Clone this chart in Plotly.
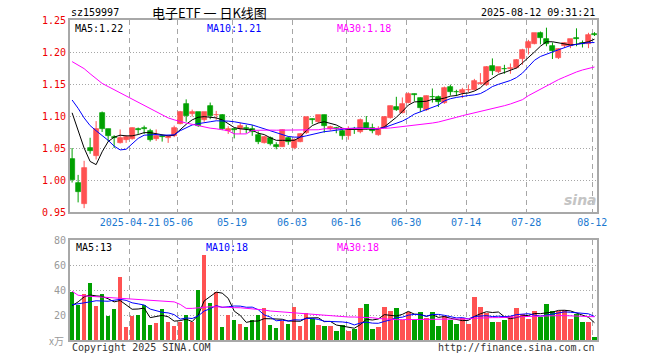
import plotly.graph_objects as go

# ---------------- data ----------------
dates = (
    ["2025-04-%02d" % d for d in [7, 8, 9, 10, 11, 14, 15, 16, 17, 18, 21, 22, 23, 24, 25, 28, 29, 30]]
    + ["2025-05-%02d" % d for d in [6, 7, 8, 9, 12, 13, 14, 15, 16, 19, 20, 21, 22, 23, 26, 27, 28, 29, 30]]
    + ["2025-06-%02d" % d for d in [3, 4, 5, 6, 9, 10, 11, 12, 13, 16, 17, 18, 19, 20, 23, 24, 25, 26, 27, 30]]
    + ["2025-07-%02d" % d for d in [1, 2, 3, 4, 7, 8, 9, 10, 11, 14, 15, 16, 17, 18, 21, 22, 23, 24, 25, 28, 29, 30, 31]]
    + ["2025-08-%02d" % d for d in [1, 4, 5, 6, 7, 8, 11, 12]]
)

open_ = [1.033, 0.996, 0.963, 1.050, 1.038, 1.104, 1.079, 1.067, 1.058, 1.063,
         1.064, 1.079, 1.081, 1.076, 1.064, 1.068, 1.065, 1.068, 1.088, 1.119,
         1.103, 1.106, 1.093, 1.116, 1.101, 1.102, 1.076, 1.079, 1.079, 1.081,
         1.079, 1.071, 1.058, 1.065, 1.055, 1.052, 1.066, 1.050, 1.060, 1.073,
         1.096, 1.091, 1.101, 1.080, 1.081, 1.076, 1.068, 1.080, 1.075, 1.089,
         1.082, 1.070, 1.082, 1.097, 1.114, 1.105, 1.121, 1.134, 1.128, 1.110,
         1.130, 1.129, 1.120, 1.145, 1.138, 1.136, 1.140, 1.140, 1.150, 1.148,
         1.178, 1.169, 1.174, 1.174, 1.175, 1.189, 1.206, 1.213, 1.229, 1.220,
         1.209, 1.190, 1.209, 1.209, 1.222, 1.214, 1.212, 1.228]
high = [1.050, 1.008, 1.030, 1.066, 1.092, 1.107, 1.080, 1.070, 1.079, 1.070,
        1.082, 1.082, 1.085, 1.080, 1.079, 1.070, 1.070, 1.085, 1.108, 1.126,
        1.110, 1.106, 1.106, 1.121, 1.108, 1.103, 1.084, 1.081, 1.089, 1.086,
        1.086, 1.076, 1.069, 1.068, 1.059, 1.079, 1.068, 1.065, 1.073, 1.098,
        1.096, 1.101, 1.102, 1.085, 1.083, 1.079, 1.084, 1.083, 1.096, 1.100,
        1.088, 1.084, 1.100, 1.116, 1.130, 1.129, 1.137, 1.135, 1.129, 1.132,
        1.143, 1.132, 1.146, 1.149, 1.141, 1.144, 1.149, 1.158, 1.167, 1.178,
        1.190, 1.176, 1.180, 1.182, 1.189, 1.205, 1.219, 1.229, 1.232, 1.238,
        1.215, 1.206, 1.215, 1.220, 1.237, 1.218, 1.230, 1.231]
low = [0.996, 0.965, 0.956, 1.041, 1.032, 1.075, 1.060, 1.050, 1.057, 1.058,
       1.063, 1.072, 1.072, 1.060, 1.061, 1.060, 1.058, 1.067, 1.087, 1.091,
       1.099, 1.083, 1.091, 1.095, 1.094, 1.078, 1.072, 1.065, 1.072, 1.073,
       1.069, 1.056, 1.057, 1.054, 1.048, 1.052, 1.055, 1.048, 1.059, 1.072,
       1.087, 1.089, 1.074, 1.077, 1.073, 1.063, 1.063, 1.072, 1.073, 1.079,
       1.073, 1.069, 1.081, 1.096, 1.108, 1.104, 1.120, 1.123, 1.106, 1.108,
       1.121, 1.114, 1.119, 1.132, 1.131, 1.128, 1.137, 1.140, 1.149, 1.147,
       1.164, 1.167, 1.166, 1.166, 1.174, 1.180, 1.196, 1.212, 1.212, 1.209,
       1.189, 1.189, 1.207, 1.206, 1.209, 1.207, 1.206, 1.225]
close = [1.000, 0.981, 1.018, 1.045, 1.079, 1.079, 1.068, 1.066, 1.065, 1.067,
         1.082, 1.078, 1.080, 1.063, 1.068, 1.067, 1.068, 1.081, 1.107, 1.100,
         1.107, 1.085, 1.106, 1.100, 1.102, 1.079, 1.079, 1.078, 1.084, 1.079,
         1.075, 1.059, 1.067, 1.057, 1.051, 1.078, 1.060, 1.062, 1.072, 1.098,
         1.093, 1.101, 1.084, 1.083, 1.080, 1.068, 1.080, 1.079, 1.094, 1.080,
         1.076, 1.080, 1.099, 1.115, 1.110, 1.119, 1.135, 1.133, 1.112, 1.131,
         1.129, 1.122, 1.143, 1.138, 1.137, 1.140, 1.141, 1.155, 1.151, 1.177,
         1.171, 1.176, 1.173, 1.175, 1.188, 1.203, 1.215, 1.229, 1.222, 1.213,
         1.201, 1.205, 1.214, 1.220, 1.221, 1.213, 1.226, 1.227]

ma5 = [1.105, 1.076, 1.050, 1.029, 1.024, 1.044, 1.060, 1.067, 1.070, 1.069,
       1.069, 1.071, 1.074, 1.074, 1.072, 1.070, 1.069, 1.070, 1.079, 1.087,
       1.094, 1.098, 1.099, 1.098, 1.097, 1.094, 1.088, 1.082, 1.080, 1.079,
       1.078, 1.073, 1.071, 1.066, 1.062, 1.062, 1.062, 1.062, 1.067, 1.077,
       1.085, 1.089, 1.091, 1.089, 1.086, 1.081, 1.079, 1.079, 1.079, 1.080,
       1.080, 1.080, 1.083, 1.090, 1.098, 1.107, 1.117, 1.122, 1.122, 1.123,
       1.126, 1.126, 1.128, 1.131, 1.132, 1.135, 1.136, 1.139, 1.144, 1.153,
       1.159, 1.165, 1.168, 1.171, 1.175, 1.183, 1.191, 1.200, 1.209, 1.216,
       1.216, 1.214, 1.213, 1.211, 1.212, 1.214, 1.216, 1.220]
ma10 = [1.125, 1.112, 1.097, 1.085, 1.077, 1.070, 1.062, 1.053, 1.047, 1.048,
        1.057, 1.065, 1.070, 1.071, 1.071, 1.070, 1.070, 1.0705, 1.077, 1.082,
        1.086, 1.088, 1.089, 1.091, 1.0925, 1.0925, 1.092, 1.091, 1.0895, 1.088,
        1.086, 1.083, 1.080, 1.0765, 1.073, 1.070, 1.068, 1.067, 1.067, 1.069,
        1.0715, 1.0735, 1.0755, 1.0765, 1.078, 1.0795, 1.0805, 1.081, 1.0815, 1.081,
        1.080, 1.080, 1.082, 1.085, 1.088, 1.092, 1.097, 1.103, 1.1065, 1.110,
        1.114, 1.117, 1.1235, 1.127, 1.129, 1.131, 1.132, 1.133, 1.135, 1.140,
        1.146, 1.1495, 1.1525, 1.1555, 1.160, 1.167, 1.177, 1.187, 1.193, 1.197,
        1.200, 1.2035, 1.207, 1.210, 1.212, 1.2135, 1.2145, 1.2148]
ma30 = [1.185, 1.180, 1.174, 1.166, 1.158, 1.151, 1.146, 1.141, 1.136, 1.131,
        1.126, 1.121, 1.117, 1.111, 1.107, 1.102, 1.097, 1.094, 1.091, 1.089,
        1.087, 1.085, 1.0825, 1.081, 1.080, 1.0785, 1.077, 1.072, 1.072, 1.072,
        1.0775, 1.078, 1.078, 1.078, 1.0778, 1.0778, 1.0778, 1.0778, 1.0778, 1.078,
        1.0785, 1.0785, 1.080, 1.080, 1.080, 1.080, 1.080, 1.0802, 1.0802, 1.0805,
        1.0805, 1.0805, 1.0807, 1.0813, 1.0823, 1.0833, 1.0844, 1.0849, 1.0865, 1.0875,
        1.089, 1.0906, 1.0927, 1.0953, 1.0979, 1.1005, 1.1026, 1.1047, 1.1073, 1.1094,
        1.112, 1.1141, 1.1161, 1.1188, 1.1219, 1.1255, 1.1318, 1.137, 1.1422, 1.1474,
        1.1526, 1.1568, 1.1609, 1.1651, 1.1688, 1.1719, 1.1745, 1.1766]

volume = [38.7, 28, 37, 45.3, 27.5, 36.5, 18.9, 24.5, 50.7, 10.1,
          18.9, 19.7, 28.3, 12.3, 13.9, 24.5, 14.1, 10.9, 14.1, 19.7,
          14.7, 40.3, 67.7, 29.9, 38.7, 10.7, 19.7, 16.3, 13.1, 10.7,
          15.7, 20.3, 25.9, 12.3, 9.3, 15.2, 13.1, 26.7, 10.9, 21.9,
          17.1, 12.3, 11.5, 11.5, 7.5, 12, 6.9, 9.1, 25.9, 29.1,
          9.1, 10.7, 26.7, 23.5, 25.9, 15.7, 22.7, 15.7, 22.7, 17.9,
          22.7, 11.5, 19.2, 15.7, 13.1, 17.9, 12.5, 34.7, 26.7, 21.3,
          14.7, 14.7, 15.7, 19.2, 25.9, 21.1, 16.5, 23.5, 18.7, 29.1,
          23.5, 23.5, 24, 16.5, 21.1, 14.7, 14.7, 2.1]
vol_ma5 = [27.5, 30.5, 34.5, 36, 35.3, 34.9, 33, 30.5, 31.6, 28.1,
           24.6, 24.8, 25.5, 17.9, 18.6, 19.7, 18.6, 15.1, 15.5, 16.7,
           14.7, 19.9, 31.3, 34.5, 38.3, 37.5, 33.3, 23.1, 19.7, 14.1,
           15.1, 15.2, 17.1, 17, 16.7, 16.6, 15.2, 15.3, 15, 17.6,
           17.9, 17.8, 14.7, 14.9, 12, 11, 9.9, 9.4, 12.3, 16.6,
           16, 16.8, 20.3, 19.8, 19.2, 20.5, 22.9, 20.7, 20.5, 18.9,
           20.3, 18.1, 18.8, 17.4, 16.4, 15.5, 15.7, 18.8, 21, 22.6,
           22, 22.4, 18.6, 17.1, 18, 19.3, 19.7, 21.2, 21.1, 21.8,
           22.3, 23.7, 23.8, 23.3, 21.7, 20, 18.2, 13.8]
vol_ma10 = [28.2, 28.8, 29.5, 30.5, 31.4, 31.2, 31, 31.8, 32.5, 31.7,
            29.75, 28.9, 28, 24.75, 23.35, 22.15, 21.7, 20.3, 16.7, 17.65,
            17.2, 19.25, 23.2, 25, 27.5, 26.1, 26.6, 27.2, 27.1, 26.2,
            26.3, 24.25, 20.1, 18.35, 15.4, 15.85, 15.2, 16.2, 16, 17.15,
            17.25, 16.5, 15, 14.95, 14.8, 14.45, 13.85, 12.05, 13.6, 14.3,
            13.5, 13.35, 14.85, 16.05, 17.9, 18.25, 19.85, 20.5, 20.15, 19.05,
            20.4, 20.5, 19.75, 18.95, 17.65, 17.9, 16.9, 18.8, 19.2, 19.5,
            18.75, 19.05, 18.7, 19.05, 20.3, 20.65, 21.05, 19.9, 19.1, 19.9,
            20.8, 21.7, 22.5, 22.2, 21.75, 21.15, 20.95, 18.8]
vol_ma30 = [39, 35.8, 35.3, 35, 34.8, 34.4, 34.1, 33.8, 33.4, 33.1,
            32.8, 32.5, 32.2, 32, 31.7, 31.4, 30.8, 30.5, 28.5, 25.3,
            25.3, 25.8, 26.4, 26.6, 26.6, 26.2, 25.9, 25.9, 25.8, 25.5,
            24.9, 24.5, 24, 23.2, 22.8, 22.2, 21.9, 21.4, 21.1, 20.8,
            20.5, 20.2, 20, 19.2, 18.8, 18.5, 18.4, 18.4, 18.4, 18.3,
            17.8, 17.2, 16.8, 16.5, 16.3, 16.3, 16.3, 16.3, 16.3, 16.3,
            16.3, 16.3, 16.3, 16.3, 16.3, 16.5, 16.9, 17.4, 17.7, 17.9,
            17.9, 17.9, 17.9, 18.1, 18.4, 18.7, 18.9, 19.1, 19.3, 19.5,
            19.5, 19.5, 19.5, 19.4, 19.2, 19, 18.8, 18.6]

tick_dates = ["2025-04-21", "2025-05-06", "2025-05-19", "2025-06-03", "2025-06-16",
              "2025-06-30", "2025-07-14", "2025-07-28", "2025-08-12"]
tick_text = ["2025-04-21", "05-06", "05-19", "06-03", "06-16", "06-30", "07-14", "07-28", "08-12"]
price_ticks = [0.95, 1.00, 1.05, 1.10, 1.15, 1.20, 1.25]
vol_ticks = [20, 40, 60, 80]

n = len(dates)
for arr in (open_, high, low, close, ma5, ma10, ma30, volume, vol_ma5, vol_ma10, vol_ma30):
    assert len(arr) == n, len(arr)

# ---------------- styling ----------------
RED = "#ff5252"
GREEN = "#00a000"
MONO = "DejaVu Sans Mono"
W, H = 660, 360
L, R, T, B = 70, 63, 20, 20
PW, PH = W - L - R, H - T - B


def px(x):
    return (x - L) / PW


def py(y):
    return (H - B - y) / PH


x = list(range(n))
up = [c >= o for o, c in zip(open_, close)]
colors = [RED if u else GREEN for u in up]
body_base = [min(o, c) for o, c in zip(open_, close)]
body_h = [max(abs(c - o), 0.0006) for o, c in zip(open_, close)]

wx = {True: [], False: []}
wy = {True: [], False: []}
for i in range(n):
    wx[up[i]] += [x[i], x[i], None]
    wy[up[i]] += [low[i], high[i], None]

fig = go.Figure()
for flag, col in ((True, RED), (False, GREEN)):
    fig.add_trace(go.Scatter(x=wx[flag], y=wy[flag], mode="lines",
                             line=dict(color=col, width=1), hoverinfo="skip",
                             showlegend=False, xaxis="x", yaxis="y"))
fig.add_trace(go.Bar(x=x, y=body_h, base=body_base, width=0.8,
                     marker=dict(color=colors, line=dict(color=colors, width=0.7)),
                     customdata=dates, hovertemplate="%{customdata}<extra></extra>",
                     showlegend=False, xaxis="x", yaxis="y"))
for arr, col in ((ma5, "#000000"), (ma10, "#0000ff"), (ma30, "#ff00ff")):
    fig.add_trace(go.Scatter(x=x, y=arr, mode="lines", line=dict(color=col, width=1),
                             hoverinfo="skip", showlegend=False, xaxis="x", yaxis="y"))

fig.add_trace(go.Bar(x=x, y=volume, width=0.74,
                     marker=dict(color=colors, line=dict(width=0)),
                     customdata=dates, hovertemplate="%{customdata}: %{y}<extra></extra>",
                     showlegend=False, xaxis="x2", yaxis="y2"))
for arr, col in ((vol_ma5, "#000000"), (vol_ma10, "#0000ff"), (vol_ma30, "#ff00ff")):
    fig.add_trace(go.Scatter(x=x, y=arr, mode="lines", line=dict(color=col, width=1),
                             hoverinfo="skip", showlegend=False, xaxis="x2", yaxis="y2"))

tickvals = [dates.index(d) - 0.37 for d in tick_dates]
xrange = [-0.35, n - 1 + 0.42]
BORDER = "#a8a8a8"
GRID = "#a6a6a6"

common_x = dict(range=xrange, tickvals=tickvals, showgrid=True, gridcolor=GRID,
                griddash="5px,4px", gridwidth=1, showline=True, linecolor=BORDER,
                linewidth=2, mirror=True, ticks="", zeroline=False, fixedrange=True)
common_y = dict(showgrid=True, gridcolor=GRID, griddash="1px,2px", gridwidth=1,
                showline=True, linecolor=BORDER, linewidth=2, mirror=True, ticks="",
                zeroline=False, fixedrange=True)

fig.update_layout(
    width=W, height=H,
    margin=dict(l=L, r=R, t=T, b=B, pad=0),
    paper_bgcolor="white", plot_bgcolor="white",
    barmode="overlay", bargap=0,
    font=dict(family=MONO, size=10, color="#000"),
    xaxis=dict(common_x, domain=[0, 1], anchor="y", ticktext=tick_text,
               tickfont=dict(family=MONO, size=10, color="#1a78d0")),
    yaxis=dict(common_y, domain=[(H - B - 212) / PH, 1], anchor="x",
               range=[0.95, 1.25], tickvals=price_ticks,
               ticktext=["%.2f" % v for v in price_ticks],
               tickfont=dict(family=MONO, size=10, color="#ee0000")),
    xaxis2=dict(common_x, domain=[0, 1], anchor="y2", showticklabels=False),
    yaxis2=dict(common_y, domain=[0, (H - B - 240) / PH], anchor="x2",
                range=[0, 80], tickvals=vol_ticks, ticktext=[str(v) for v in vol_ticks],
                tickfont=dict(family=MONO, size=10, color="#999999")),
)


def label(text, x0, y0, color="#000", anchor="left", size=10, family=MONO):
    fig.add_annotation(text=text, x=px(x0), y=py(y0), xref="paper", yref="paper",
                       xanchor=anchor, yanchor="middle", showarrow=False,
                       font=dict(family=family, size=size, color=color))


label("sz159997", 69, 12)
label("电子ETF 一 日K线图", 209, 12, anchor="center", size=13,
      family="Noto Sans CJK SC")
label("2025-08-12 09:31:21", 597, 12, anchor="right")
label("MA5:%.2f" % ma5[-1], 73, 28)
label("MA10:%.2f" % ma10[-1], 205, 28, color="#0000ff")
label("MA30:%.2f" % ma30[-1], 335, 28, color="#ff00ff")
label("MA5:%d" % int(vol_ma5[-1]), 74, 247)
label("MA10:%d" % int(vol_ma10[-1]), 204, 247, color="#0000ff")
label("MA30:%d" % int(vol_ma30[-1]), 335, 247, color="#ff00ff")
label("x万", 66, 340, color="#999999", anchor="right", family="Noto Sans CJK SC")
label("Copyright 2025 SINA.COM", 70, 347, color="#333333")
label("http://finance.sina.com.cn", 597, 347, color="#333333", anchor="right")
label("<b><i>sina</i></b>", 580, 200, color="#c4c4c4", anchor="center", size=14,
      family="DejaVu Sans")

fig.write_html("out.html", config={"displayModeBar": False},
               post_script="document.body.style.margin='0';document.body.style.padding='0';")
